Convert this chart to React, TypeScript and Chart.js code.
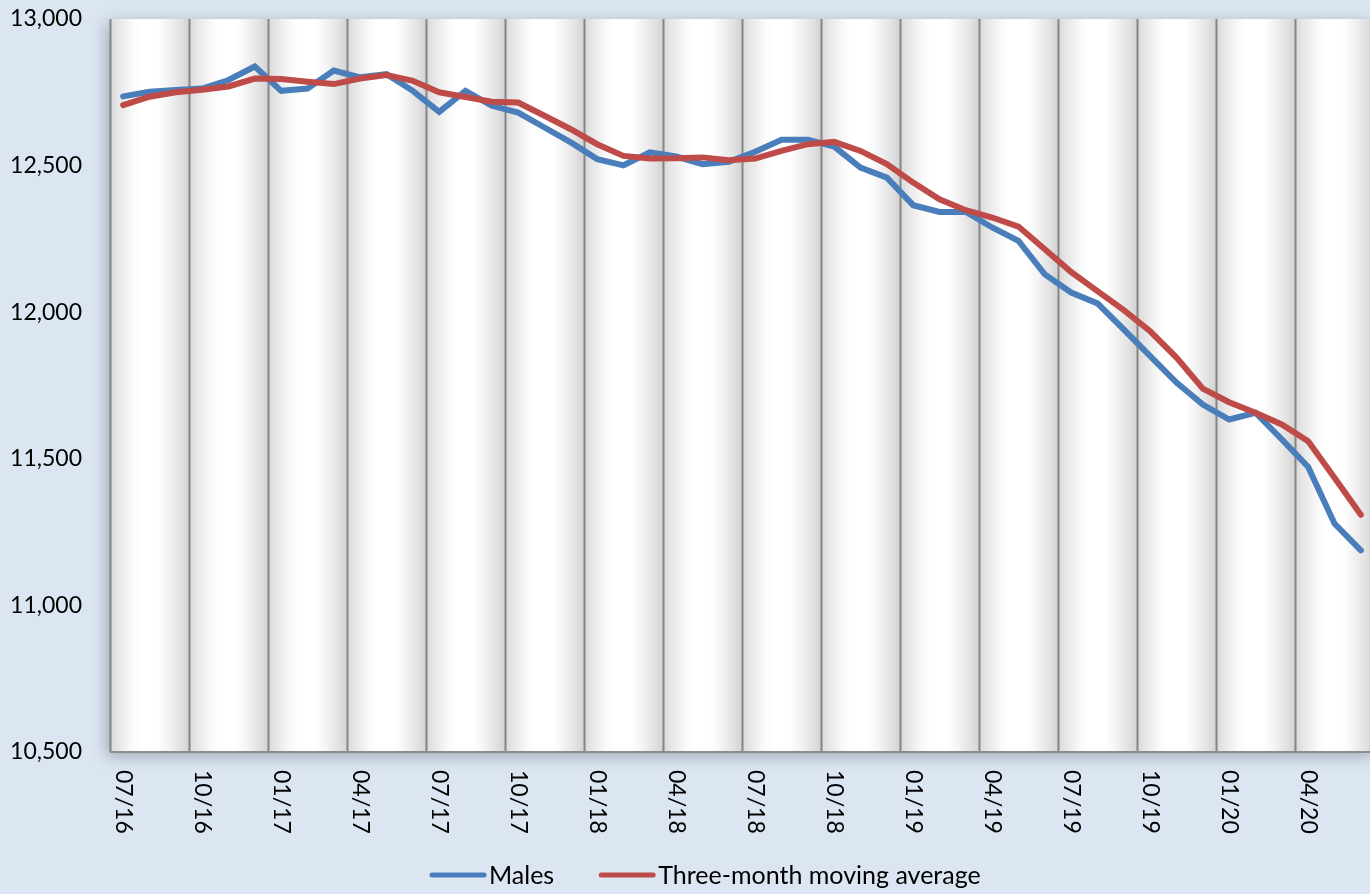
import React, { useEffect, useRef } from "react";
import { Chart, registerables } from "chart.js";

Chart.register(...registerables);

const categories: string[] = [
  "07/16", "08/16", "09/16", "10/16", "11/16", "12/16",
  "01/17", "02/17", "03/17", "04/17", "05/17", "06/17",
  "07/17", "08/17", "09/17", "10/17", "11/17", "12/17",
  "01/18", "02/18", "03/18", "04/18", "05/18", "06/18",
  "07/18", "08/18", "09/18", "10/18", "11/18", "12/18",
  "01/19", "02/19", "03/19", "04/19", "05/19", "06/19",
  "07/19", "08/19", "09/19", "10/19", "11/19", "12/19",
  "01/20", "02/20", "03/20", "04/20", "05/20", "06/20",
];

const xTickLabels: string[] = [
  "07/16", "10/16", "01/17", "04/17", "07/17", "10/17", "01/18", "04/18",
  "07/18", "10/18", "01/19", "04/19", "07/19", "10/19", "01/20", "04/20",
];

const males: number[] = [
  12736, 12752, 12758, 12763, 12792, 12838, 12755, 12763, 12824, 12801, 12812, 12755,
  12683, 12755, 12704, 12681, 12630, 12579, 12522, 12501, 12545, 12531, 12505, 12513,
  12547, 12588, 12588, 12565, 12493, 12459, 12365, 12342, 12342, 12289, 12243, 12129,
  12067, 12030, 11941, 11850, 11760, 11685, 11634, 11657, 11566, 11472, 11279, 11188,
];

const movingAverage: number[] = [
  12706, 12735, 12750, 12759, 12770, 12797, 12795, 12786, 12778, 12797, 12809, 12789,
  12750, 12734, 12718, 12715, 12670, 12624, 12573, 12533, 12524, 12525, 12528, 12518,
  12524, 12550, 12573, 12581, 12550, 12505, 12442, 12385, 12348, 12323, 12292, 12215,
  12137, 12072, 12007, 11935, 11845, 11739, 11693, 11657, 11617, 11560, 11435, 11309,
];

const seriesNames: string[] = ["Males", "Three-month moving average"];
const seriesColors: string[] = ["#4A7EBB", "#BE4B48"];

const yMin = 10500;
const yMax = 13000;
const yStep = 500;

const FAMILY = "Lato, 'Open Sans', sans-serif";
const FONT = "23px " + FAMILY;
const LEGEND_FONT = "25px " + FAMILY;
const BG = "#DCE6F2";

const decorPlugin = {
  id: "decor",
  beforeDraw(chart: any) {
    const { ctx, chartArea } = chart;
    const xs = chart.scales.x;
    const { left, right, top, bottom } = chartArea;
    ctx.save();
    ctx.fillStyle = BG;
    ctx.fillRect(0, 0, chart.width, chart.height);

    // plot shadow
    ctx.save();
    ctx.shadowColor = "rgba(40,50,70,0.35)";
    ctx.shadowBlur = 14;
    ctx.shadowOffsetX = -3;
    ctx.shadowOffsetY = 4;
    ctx.fillStyle = "#ffffff";
    ctx.fillRect(left, top, right - left, bottom - top);
    ctx.restore();

    const step = xs.getPixelForValue(1) - xs.getPixelForValue(0);
    const bounds: number[] = [];
    for (let i = 0; i < categories.length; i += 3) {
      bounds.push(xs.getPixelForValue(i) - step / 2);
    }
    bounds.push(right);
    for (let b = 0; b < bounds.length - 1; b++) {
      const x0 = bounds[b];
      const x1 = bounds[b] + step * 3;
      const g = ctx.createLinearGradient(x0, 0, x1, 0);
      g.addColorStop(0, "#d8d8d8");
      g.addColorStop(0.1, "#e6e6e6");
      g.addColorStop(0.28, "#f9f9f9");
      g.addColorStop(0.38, "#ffffff");
      g.addColorStop(0.6, "#ffffff");
      g.addColorStop(0.74, "#f3f3f3");
      g.addColorStop(0.9, "#e1e1e1");
      g.addColorStop(1, "#d2d2d2");
      ctx.fillStyle = g;
      ctx.fillRect(x0, top, Math.min(x1, right) - x0, bottom - top);
    }

    // vertical grid lines
    ctx.strokeStyle = "#858585";
    ctx.lineWidth = 2;
    for (let b = 0; b < bounds.length - 1; b++) {
      const x = Math.round(bounds[b]) + 0.5;
      ctx.beginPath();
      ctx.moveTo(x, top);
      ctx.lineTo(x, bottom);
      ctx.stroke();
    }
    // bottom axis line
    ctx.strokeStyle = "#8c8c8c";
    ctx.beginPath();
    ctx.moveTo(left, bottom);
    ctx.lineTo(right, bottom);
    ctx.stroke();
    ctx.restore();
  },
  afterDraw(chart: any) {
    const { ctx, chartArea } = chart;
    const xs = chart.scales.x;
    ctx.save();
    ctx.fillStyle = "#000000";
    ctx.font = FONT;
    ctx.textAlign = "left";
    ctx.textBaseline = "middle";
    xTickLabels.forEach((lab) => {
      const idx = categories.indexOf(lab);
      const x = xs.getPixelForValue(idx);
      ctx.save();
      ctx.translate(x, chartArea.bottom + 18);
      ctx.rotate(Math.PI / 2);
      ctx.fillText(lab, 0, 0);
      ctx.restore();
    });

    // legend
    ctx.font = LEGEND_FONT;
    const ly = 875;
    let lx = 430;
    seriesNames.forEach((name, i) => {
      ctx.strokeStyle = seriesColors[i];
      ctx.lineWidth = 5;
      ctx.lineCap = "round";
      ctx.beginPath();
      ctx.moveTo(lx + 2, ly);
      ctx.lineTo(lx + 54, ly);
      ctx.stroke();
      ctx.fillStyle = "#000000";
      ctx.fillText(name, lx + 59, ly + 1);
      lx += 59 + ctx.measureText(name).width + 45;
    });
    ctx.restore();
  },
};

export default function App() {
  const ref = useRef<HTMLCanvasElement | null>(null);
  useEffect(() => {
    document.body.style.margin = "0";
    document.body.style.overflow = "hidden";
    let chart: Chart | null = null;
    let cancelled = false;
    const make = () => {
      if (cancelled || !ref.current) return;
      chart = new Chart(ref.current, {
        type: "line",
        data: {
          labels: categories,
          datasets: [
            {
              label: seriesNames[0],
              data: males,
              borderColor: seriesColors[0],
              backgroundColor: seriesColors[0],
              borderWidth: 6,
              pointRadius: 0,
              tension: 0,
              borderCapStyle: "round",
              order: 1,
            },
            {
              label: seriesNames[1],
              data: movingAverage,
              borderColor: seriesColors[1],
              backgroundColor: seriesColors[1],
              borderWidth: 6,
              pointRadius: 0,
              tension: 0,
              borderCapStyle: "round",
              order: 0,
            },
          ],
        },
        options: {
          responsive: false,
          animation: false,
          devicePixelRatio: 1,
          layout: { padding: { top: 19, right: 0, bottom: 0, left: 0 } },
          plugins: {
            legend: { display: false },
            tooltip: { enabled: false },
          },
          scales: {
            x: {
              type: "category",
              offset: true,
              grid: { display: false },
              border: { display: false },
              ticks: { display: false },
              afterFit: (s: any) => {
                s.height = 894 - 752;
                s.paddingLeft = 0;
                s.paddingRight = 0;
              },
            },
            y: {
              min: yMin,
              max: yMax,
              grid: { display: false, drawTicks: false },
              border: { display: false },
              ticks: {
                stepSize: yStep,
                padding: 28,
                color: "#000000",
                font: { family: FAMILY, size: 23 },
                callback: (v: any) => Number(v).toLocaleString("en-US"),
              },
              afterFit: (s: any) => {
                s.width = 110;
                s.paddingTop = 0;
                s.paddingBottom = 0;
              },
            },
          },
        },
        plugins: [decorPlugin],
      } as any);
    };
    const fontsReady = (document as any).fonts
      ? Promise.all([
          (document as any).fonts.load(FONT),
          (document as any).fonts.load(LEGEND_FONT),
        ]).catch(() => null)
      : Promise.resolve();
    fontsReady.then(make, make);
    return () => {
      cancelled = true;
      if (chart) chart.destroy();
    };
  }, []);
  return (
    <div style={{ width: 1370, height: 894, overflow: "hidden", position: "relative", background: BG }}>
      <canvas ref={ref} width={1374} height={894} style={{ display: "block" }} />
    </div>
  );
}
